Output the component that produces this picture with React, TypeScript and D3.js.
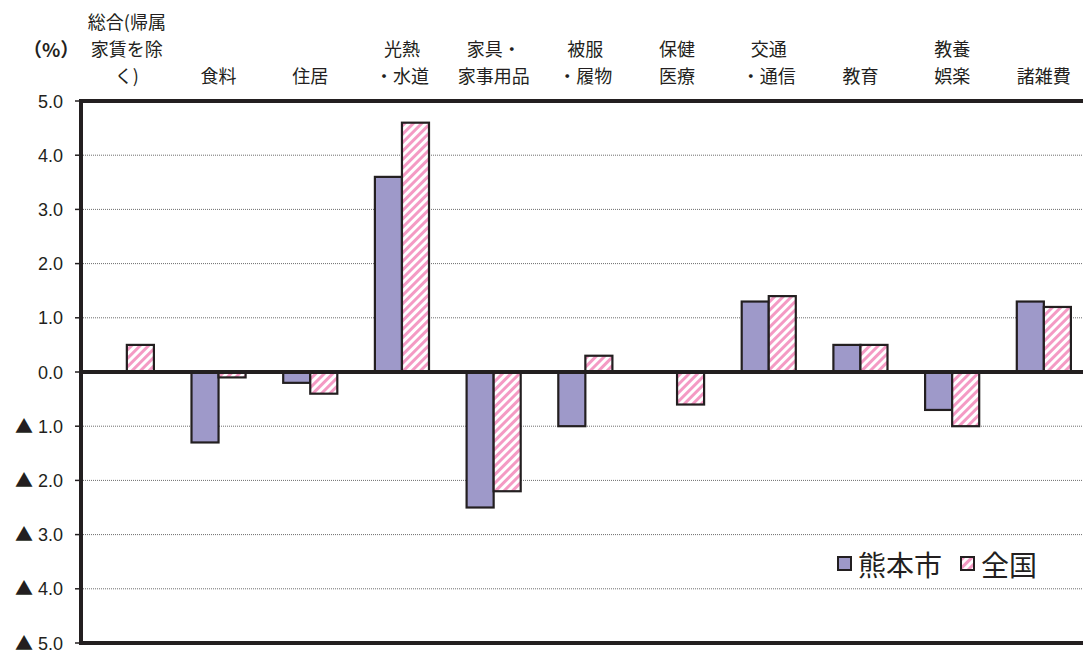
import { useEffect, useRef } from "react";
import * as d3 from "d3";

// 品目別 前年比 (%)
const categories: string[][] = [
  ["総合(帰属", "家賃を除", "く)"],
  ["食料"],
  ["住居"],
  ["光熱", "・水道"],
  ["家具・", "家事用品"],
  ["被服", "・履物"],
  ["保健", "医療"],
  ["交通", "・通信"],
  ["教育"],
  ["教養", "娯楽"],
  ["諸雑費"],
];
const kumamoto = [0, -1.3, -0.2, 3.6, -2.5, -1.0, 0, 1.3, 0.5, -0.7, 1.3];
const zenkoku = [0.5, -0.1, -0.4, 4.6, -2.2, 0.3, -0.6, 1.4, 0.5, -1.0, 1.2];
const yTicks = [5, 4, 3, 2, 1, 0, -1, -2, -3, -4, -5];
const seriesNames = ["熊本市", "全国"];

const W = 1083;
const H = 651;
const FONT = "'Liberation Sans', 'Noto Sans CJK JP', sans-serif";
const CJK = "'Noto Sans CJK JP', sans-serif";

export default function App() {
  const ref = useRef<SVGSVGElement>(null);

  useEffect(() => {
    const svg = d3.select(ref.current);
    svg.selectAll("*").remove();

    const x0 = 81;
    const yTop = 101;
    const yBot = 643;
    const step = 91.7;

    const defs = svg.append("defs");
    const pat = defs
      .append("pattern")
      .attr("id", "stripe")
      .attr("patternUnits", "userSpaceOnUse")
      .attr("width", 6)
      .attr("height", 6)
      .attr("patternTransform", "rotate(45)");
    pat.append("rect").attr("width", 6).attr("height", 6).attr("fill", "#fff");
    pat.append("rect").attr("width", 3).attr("height", 6).attr("fill", "#F49AC4");

    const fills = ["#9E99C9", "url(#stripe)"];

    const x = d3
      .scaleBand<number>()
      .domain(d3.range(categories.length))
      .range([x0, x0 + step * categories.length])
      .paddingInner(0.41)
      .paddingOuter(0.205);
    const xs = d3.scaleBand<number>().domain([0, 1]).range([0, x.bandwidth()]);
    const y = d3.scaleLinear().domain([-5, 5]).range([yBot, yTop]);

    // grid lines
    svg
      .append("g")
      .selectAll("line")
      .data(yTicks.filter((t) => t !== 0 && t !== 5 && t !== -5))
      .enter()
      .append("line")
      .attr("x1", x0)
      .attr("x2", W)
      .attr("y1", (d) => y(d))
      .attr("y2", (d) => y(d))
      .attr("stroke", "#6d6d6d")
      .attr("stroke-width", 1)
      .attr("stroke-dasharray", "1,1");

    // y tick labels and ticks
    const yAxis = svg.append("g");
    yAxis
      .selectAll("line")
      .data(yTicks)
      .enter()
      .append("line")
      .attr("x1", x0 - 6)
      .attr("x2", x0)
      .attr("y1", (d) => y(d))
      .attr("y2", (d) => y(d))
      .attr("stroke", "#231F20")
      .attr("stroke-width", 1.5);
    yTicks.forEach((d) => {
      const t = yAxis
        .append("text")
        .attr("x", 63)
        .attr("y", y(d) + 6.5)
        .attr("text-anchor", "end")
        .style("font-family", FONT)
        .style("font-size", "18px")
        .style("fill", "#231F20");
      if (d < 0) {
        t.append("tspan").style("font-family", CJK).text("▲");
        t.append("tspan").text(` ${Math.abs(d).toFixed(1)}`);
      } else {
        t.text(d.toFixed(1));
      }
    });

    // bars
    const series = [kumamoto, zenkoku];
    series.forEach((vals, si) => {
      svg
        .append("g")
        .selectAll("rect")
        .data(vals.map((v, i) => ({ v, i })).filter((d) => d.v !== 0))
        .enter()
        .append("rect")
        .attr("x", (d) => (x(d.i) as number) + (xs(si) as number))
        .attr("width", xs.bandwidth())
        .attr("y", (d) => y(Math.max(0, d.v)))
        .attr("height", (d) => Math.abs(y(d.v) - y(0)))
        .attr("fill", fills[si])
        .attr("stroke", "#231F20")
        .attr("stroke-width", 2.2);
    });

    // frame
    const frame = svg.append("g").attr("stroke", "#231F20").attr("stroke-width", 4);
    frame.append("line").attr("x1", x0).attr("x2", W).attr("y1", yTop).attr("y2", yTop);
    frame.append("line").attr("x1", x0).attr("x2", W).attr("y1", yBot).attr("y2", yBot);
    frame.append("line").attr("x1", x0).attr("x2", W).attr("y1", y(0)).attr("y2", y(0));
    frame.append("line").attr("x1", x0).attr("x2", x0).attr("y1", yTop - 2).attr("y2", yBot + 2);

    // category labels (bottom-aligned above the plot)
    const lineH = 27;
    const lastBase = 83;
    categories.forEach((lines, i) => {
      const cx = (x(i) as number) + x.bandwidth() / 2;
      const t = svg
        .append("text")
        .attr("text-anchor", "middle")
        .style("font-family", CJK)
        .style("font-size", "18px")
        .style("fill", "#231F20");
      lines.forEach((ln, k) => {
        t.append("tspan")
          .attr("x", cx)
          .attr("y", lastBase - (lines.length - 1 - k) * lineH)
          .text(ln);
      });
    });

    svg
      .append("text")
      .attr("x", 23)
      .attr("y", 57)
      .style("font-family", CJK)
      .style("font-size", "19px")
      .style("font-weight", "bold")
      .style("fill", "#231F20")
      .text("（%）");

    // legend
    const legend = svg.append("g");
    const lx = [838, 961];
    seriesNames.forEach((name, i) => {
      legend
        .append("rect")
        .attr("x", lx[i])
        .attr("y", 557)
        .attr("width", 13)
        .attr("height", 13)
        .attr("fill", fills[i])
        .attr("stroke", "#231F20")
        .attr("stroke-width", 2);
      legend
        .append("text")
        .attr("x", lx[i] + 20)
        .attr("y", 576)
        .style("font-family", CJK)
        .style("font-size", "28px")
        .style("fill", "#231F20")
        .text(name);
    });
  }, []);

  return (
    <div style={{ position: "absolute", left: 0, top: 0 }}>
      <svg ref={ref} width={W} height={H} style={{ display: "block", background: "#fff" }} />
    </div>
  );
}
